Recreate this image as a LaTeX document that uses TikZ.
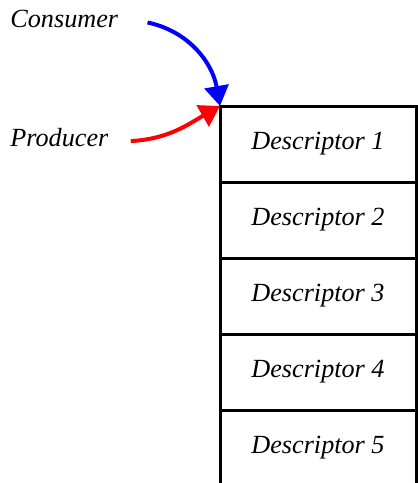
\documentclass[tikz,border=0pt]{standalone}
\usepackage{fontspec}
\setmainfont{Liberation Serif}
\usepackage{tikz}
\usetikzlibrary{arrows.meta,positioning}

\tikzset{
  label text/.style={font=\fontsize{13.1}{15}\selectfont\itshape, inner sep=0pt},
  slot/.style={label text, minimum width=98pt, minimum height=38pt, line width=1.5pt, outer sep=0pt},
  pointer/.style={line width=2pt, -{Triangle[length=10pt,width=12pt]}},
}

\begin{document}
\begin{tikzpicture}[x=0.5pt,y=-0.5pt]
\useasboundingbox (0,0) rectangle (418,483);
% ring of descriptors
\foreach \i in {1,2,3,4}
  \node[slot,draw] (d\i) at (318,{144+76*(\i-1)}) {Descriptor \i};
\node[slot] (d5) at (318,448) {Descriptor 5};
\draw[line width=1.5pt] (d5.south west) -- (d4.south west) (d4.south east) -- (d5.south east);
\coordinate (tip) at (d1.north west);
% pointers
\node[label text,anchor=base west] (consumer) at (10,27) {Consumer};
\node[label text,anchor=base west] (producer) at (10,146) {Producer};
\draw[pointer,blue] ([xshift=14.5pt,yshift=-2pt]consumer.east) to[out=-12,in=100] (tip);
\draw[pointer,red] ([xshift=11pt,yshift=-2pt]producer.east) to[out=3,in=210] (tip);
\end{tikzpicture}
\end{document}
